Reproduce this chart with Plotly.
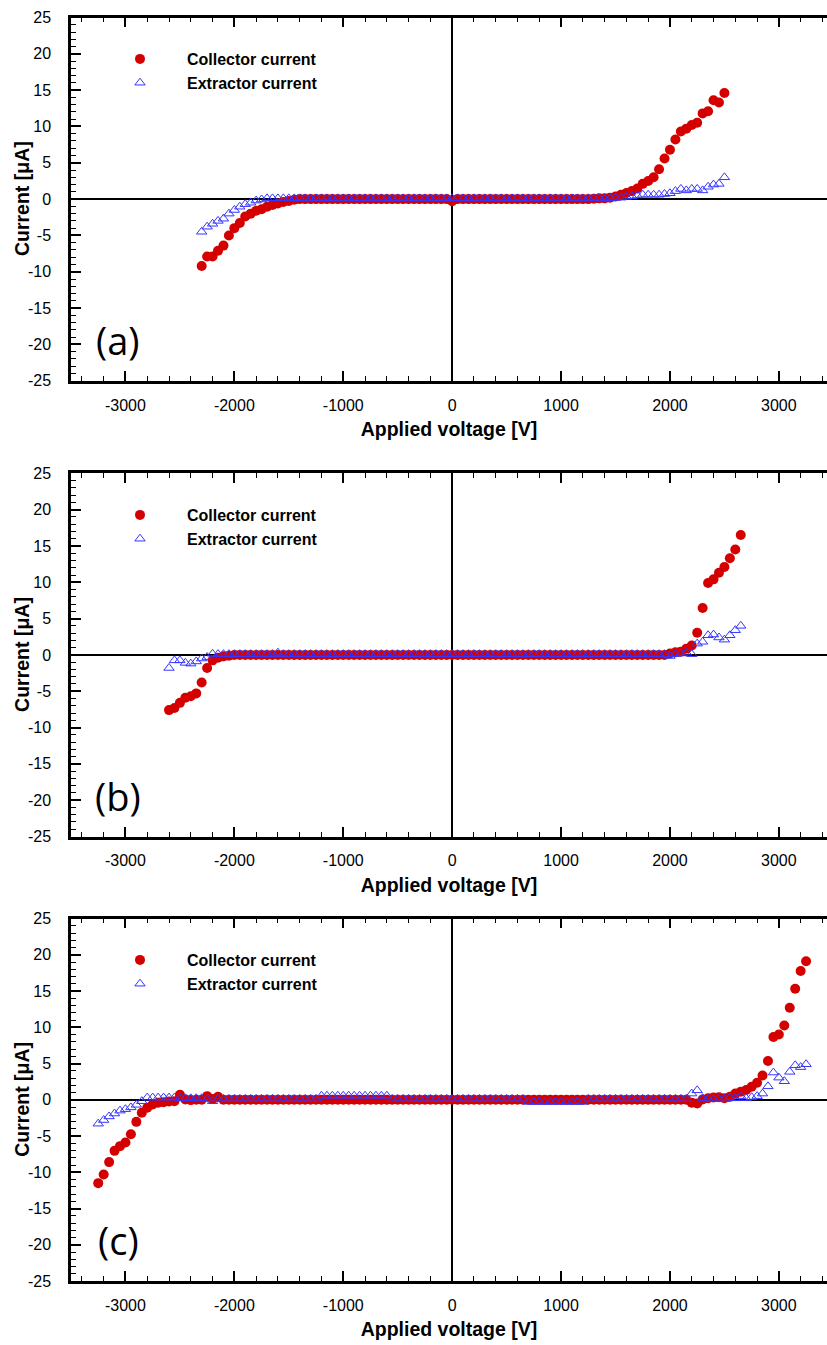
import plotly.graph_objects as go

# ---------------- data ----------------
V_A = list(range(-2300, 2501, 50))
V_B = list(range(-2600, 2651, 50))
V_C = list(range(-3250, 3251, 50))

IC_A = [
    -9.2, -7.9, -7.9, -7.1, -6.4, -5.0, -4.0, -3.3, -2.4, -2.0,
    -1.6, -1.4, -1.05, -0.8, -0.6, -0.4, -0.25, -0.1,
    0.0, 0.0, 0.0, 0.0, 0.0, 0.0, 0.0, 0.0, 0.0, 0.0,
    0.0, 0.0, 0.0, 0.0, 0.0, 0.0, 0.0, 0.0, 0.0, 0.0,
    0.0, 0.0, 0.0, 0.0, 0.0, 0.0, 0.0, 0.0, -0.3, 0.0,
    0.0, 0.0, 0.0, 0.0, 0.0, 0.0, 0.0, 0.0, 0.0, 0.0,
    0.0, 0.0, 0.0, 0.0, 0.0, 0.0, 0.0, 0.0, 0.0, 0.0,
    0.0, 0.0, 0.0, 0.0, 0.05, 0.1, 0.1,
    0.2, 0.35, 0.6, 0.85, 1.1, 1.45, 2.1, 2.5, 3.0, 4.1,
    5.6, 6.8, 8.2, 9.3, 9.7, 10.2, 10.5, 11.8, 12.1, 13.6,
    13.3, 14.6,
]
IE_A = [
    -4.5, -3.8, -3.4, -3.0, -2.7, -2.0, -1.5, -1.05, -0.7, -0.5,
    -0.2, -0.05,
    0.1, 0.1, 0.1, 0.1, 0.1, 0.1, 0.1, 0.1, 0.1, 0.1,
    0.1, 0.1, 0.1, 0.1, 0.1, 0.1, 0.1, 0.1, 0.1, 0.1,
    0.1, 0.1, 0.1, 0.1, 0.1, 0.1, 0.1, 0.1, 0.1, 0.1,
    0.1, 0.1, 0.1, 0.1, 0.1, 0.1, 0.1, 0.1, 0.1, 0.1,
    0.1, 0.1, 0.1, 0.1, 0.1, 0.1, 0.1, 0.1, 0.1, 0.1,
    0.1, 0.1, 0.1, 0.1, 0.1, 0.1, 0.1, 0.1, 0.1, 0.1,
    0.1, 0.1, 0.1,
    0.1, 0.15, 0.2, 0.3, 0.4, 0.5, 0.6, 0.6, 0.6, 0.6,
    0.7, 0.8, 1.1, 1.4, 1.2, 1.4, 1.4, 1.2, 1.7, 2.0,
    2.1, 3.0,
]
IC_B = [
    -7.6, -7.3, -6.6, -5.9, -5.7, -5.3, -3.8, -1.8, -0.75, -0.4,
    -0.2, -0.1,
    0.0, 0.0, 0.0, 0.0, 0.0, 0.0, 0.0, 0.0, 0.0, 0.0,
    0.0, 0.0, 0.0, 0.0, 0.0, 0.0, 0.0, 0.0, 0.0, 0.0,
    0.0, 0.0, 0.0, 0.0, 0.0, 0.0, 0.0, 0.0, 0.0, 0.0,
    0.0, 0.0, 0.0, 0.0, 0.0, 0.0, 0.0, 0.0, 0.0, 0.0,
    0.0, 0.0, 0.0, 0.0, 0.0, 0.0, 0.0, 0.0, 0.0, 0.0,
    0.0, 0.0, 0.0, 0.0, 0.0, 0.0, 0.0, 0.0, 0.0, 0.0,
    0.0, 0.0, 0.0, 0.0, 0.0, 0.0, 0.0, 0.0, 0.0, 0.0,
    0.0, 0.0, 0.0, 0.0, 0.0, 0.0, 0.0, 0.0, 0.0, 0.0,
    0.2, 0.35, 0.45, 0.85, 1.3, 3.05, 6.45, 9.9, 10.4, 11.3,
    12.1, 13.3, 14.5, 16.5,
]
IE_B = [
    -1.8, -0.75, -0.75, -1.1, -1.2, -0.9, -0.5, -0.3, 0.15,
    0.1, 0.1, 0.1, 0.1, 0.1, 0.1, 0.1, 0.1, 0.1, 0.1,
    0.1, 0.3, 0.1, 0.1, 0.1, 0.1, 0.1, 0.1, 0.1, 0.1,
    0.1, 0.1, 0.1, 0.1, 0.1, 0.1, 0.1, 0.1, 0.1, 0.1,
    0.1, 0.1, 0.1, 0.1, 0.1, 0.1, 0.1, 0.1, 0.1, 0.1,
    0.1, 0.1, 0.1, 0.1, 0.1, 0.1, 0.1, 0.1, 0.1, 0.1,
    0.1, 0.1, 0.1, 0.1, 0.1, 0.1, 0.1, 0.1, 0.1, 0.1,
    0.1, 0.1, 0.1, 0.1, 0.1, 0.1, 0.1, 0.1, 0.1, 0.1,
    0.1, 0.1, 0.1, 0.1, 0.1, 0.1, 0.1, 0.1, 0.1, 0.1,
    0.1, 0.1, 0.1,
    -0.15, 0.1, 0.2, 0.3, 0.1, 1.55, 1.8, 2.7, 2.8, 2.4,
    2.1, 2.7, 3.4, 4.0,
]
IC_C = [
    -11.5, -10.3, -8.6, -7.05, -6.4, -5.9, -4.75, -3.05, -1.8, -1.1,
    -0.65, -0.4, -0.35, -0.25, -0.2, 0.7, 0.05, -0.05, 0.0, 0.0,
    0.5, 0.1, 0.4,
    0.0, 0.0, 0.0, 0.0, 0.0, 0.0, 0.0, 0.0, 0.0, 0.0,
    0.0, 0.0, 0.0, 0.0, 0.0, 0.0, 0.0, 0.0, 0.0, 0.0,
    0.0, 0.0, 0.0, 0.0, 0.0, 0.0, 0.0, 0.0, 0.0, 0.0,
    0.0, 0.0, 0.0, 0.0, 0.0, 0.0, 0.0, 0.0, 0.0, 0.0,
    0.0, 0.0, 0.0, 0.0, 0.0, 0.0, 0.0, 0.0, 0.0, 0.0,
    0.0, 0.0, 0.0, 0.0, 0.0, 0.0, 0.0, 0.0, 0.0, 0.0,
    0.0, 0.0, 0.0, 0.0, 0.0, 0.0, 0.0, 0.0, 0.0, 0.0,
    0.0, 0.0, 0.0, 0.0, 0.0, 0.0, 0.0, 0.0, 0.0, 0.0,
    0.0, 0.0, 0.0, 0.0, 0.0, 0.0,
    -0.4, -0.5, 0.05, 0.2, 0.3, 0.35, 0.2, 0.4, 0.85, 1.1,
    1.35, 1.8, 2.35, 3.35, 5.35, 8.65, 9.0, 10.25, 12.7, 15.3,
    17.75, 19.1,
]
IE_C = [
    -3.3, -2.8, -2.3, -1.9, -1.5, -1.3, -1.05, -0.7, -0.2, 0.3,
    0.3, 0.3, 0.3, 0.3, 0.3, 0.2, 0.2, 0.2, 0.2, 0.2,
    0.1, -0.2, 0.1,
    0.1, 0.1, 0.1, 0.1, 0.1, 0.1, 0.1, 0.1, 0.1, 0.1,
    0.1, 0.1, 0.1, 0.1, 0.1, 0.1, 0.1, 0.1,
    0.55, 0.55, 0.55, 0.55, 0.55, 0.55, 0.55, 0.55, 0.55, 0.55,
    0.55, 0.55, 0.55,
    0.1, 0.1, 0.1, 0.1, 0.1, 0.1, 0.1, 0.1, 0.1, 0.1,
    0.1, 0.1, 0.1, 0.1, 0.1, 0.1, 0.1, 0.1, 0.1, 0.1,
    0.1, 0.1, 0.1, 0.1, 0.1,
    -0.3, -0.3, -0.3, -0.3, -0.3, -0.3, -0.3, -0.3, -0.3, -0.3,
    -0.3,
    0.1, 0.1, 0.1, 0.1, 0.1, 0.1, 0.1, 0.1, 0.1, 0.1,
    0.1, 0.1, 0.1, 0.1, 0.1, 0.1, 0.1, 0.1, 0.1,
    0.85, 1.3, 0.2, 0.1, 0.1, 0.1, 0.1, 0.3, 0.2, 0.5,
    0.2, 0.35, 0.5, 0.85, 1.85, 3.75, 3.05, 2.55, 3.85, 4.75,
    4.5, 4.9,
]

PANEL_LABELS = ["(a)", "(b)", "(c)"]
X_TICKS = [-3000, -2000, -1000, 0, 1000, 2000, 3000]
Y_TICKS = [-25, -20, -15, -10, -5, 0, 5, 10, 15, 20, 25]

for v, c, e in [(V_A, IC_A, IE_A), (V_B, IC_B, IE_B), (V_C, IC_C, IE_C)]:
    assert len(v) == len(c) == len(e), (len(v), len(c), len(e))

# ---------------- figure ----------------
W, H = 827, 1345
FONT = "Liberation Sans, Arial, sans-serif"
RED = "#d40000"
BLUE = "#3535ff"

# plot-area pixel boxes (top, bottom)
boxes = [(17.5, 380.7), (473.3, 836.5), (918.5, 1281.0)]
legend_tops = [42, 498, 943]

fig = go.Figure()
data = [(V_A, IC_A, IE_A), (V_B, IC_B, IE_B), (V_C, IC_C, IE_C)]
for i, (v, ic, ie) in enumerate(data):
    sfx = "" if i == 0 else str(i + 1)
    leg = "legend" + sfx
    fig.add_trace(go.Scatter(
        x=v, y=ic, mode="markers", name="Collector current",
        marker=dict(symbol="circle", size=10, color=RED, line=dict(width=0)),
        xaxis="x" + sfx, yaxis="y" + sfx, legend=leg, cliponaxis=False,
    ))
    fig.add_trace(go.Scatter(
        x=v, y=ie, mode="markers", name="Extractor current",
        marker=dict(symbol="triangle-up-open", size=9, color=BLUE,
                    line=dict(width=1, color=BLUE)),
        xaxis="x" + sfx, yaxis="y" + sfx, legend=leg, cliponaxis=False,
    ))

layout = dict(
    width=W, height=H,
    margin=dict(l=0, r=0, t=0, b=0),
    paper_bgcolor="white", plot_bgcolor="white",
    font=dict(family=FONT, size=16, color="black"),
    showlegend=True,
)

x_left = 71.0
x0 = x_left / W
for i, (top, bot) in enumerate(boxes):
    sfx = "" if i == 0 else str(i + 1)
    dom = [1 - bot / H, 1 - top / H]
    layout["xaxis" + sfx] = dict(
        domain=[x0, 1.0], range=[-3500, 3442], anchor="y" + sfx,
        tickvals=X_TICKS, ticktext=[str(t) for t in X_TICKS],
        ticks="inside", ticklen=10, tickwidth=1.5, tickcolor="black",
        minor=dict(dtick=200, ticks="inside", ticklen=5, tickwidth=1,
                   tickcolor="black"),
        showline=True, linewidth=2.5, linecolor="black", mirror="ticks",
        showgrid=False, zeroline=True, zerolinecolor="black",
        zerolinewidth=1.5,
        tickfont=dict(family=FONT, size=16),
        ticklabelstandoff=8,
        title=dict(text="<b>Applied voltage [V]</b>",
                   font=dict(family=FONT, size=19.5), standoff=10),
        automargin=False,
    )
    layout["yaxis" + sfx] = dict(
        domain=dom, range=[-25, 25], anchor="x" + sfx,
        tickvals=Y_TICKS, ticktext=[str(t) for t in Y_TICKS],
        ticks="inside", ticklen=10, tickwidth=1.5, tickcolor="black",
        minor=dict(dtick=1, ticks="inside", ticklen=5, tickwidth=1,
                   tickcolor="black"),
        showline=True, linewidth=2.5, linecolor="black", mirror=False,
        showgrid=False, zeroline=True, zerolinecolor="black",
        zerolinewidth=1.5,
        tickfont=dict(family=FONT, size=16),
        ticklabelstandoff=14,
        automargin=False,
    )
    layout["legend" + sfx] = dict(
        x=93 / W, xanchor="left",
        y=1 - legend_tops[i] / H, yanchor="top",
        bgcolor="rgba(0,0,0,0)", borderwidth=0,
        font=dict(family=FONT, size=16, color="black", weight="bold"),
        itemwidth=84, tracegroupgap=0,
    )

fig.update_layout(**layout)

for i, (top, bot) in enumerate(boxes):
    # y-axis title
    fig.add_annotation(
        x=22 / W, y=1 - ((top + bot) / 2) / H, xref="paper", yref="paper",
        text="<b>Current [\u03bcA]</b>", textangle=-90, showarrow=False,
        font=dict(family=FONT, size=19.5, color="black"),
        xanchor="center", yanchor="middle",
    )
    # panel label
    fig.add_annotation(
        x=118 / W, y=1 - (bot - 41) / H, xref="paper", yref="paper",
        text=PANEL_LABELS[i], showarrow=False,
        font=dict(family="Open Sans, Noto Sans, sans-serif", size=38, color="black"),
        xanchor="center", yanchor="middle",
    )

fig.write_html("out.html")
